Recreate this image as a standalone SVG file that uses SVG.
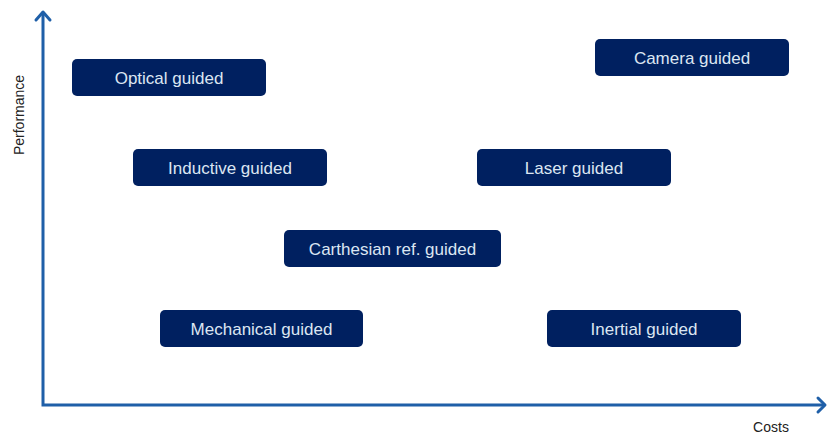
<svg xmlns="http://www.w3.org/2000/svg" width="828" height="436" viewBox="0 0 828 436">
<style>
.box{fill:#002060;}
.lbl{font-family:"Liberation Sans",Arial,sans-serif;font-size:17px;fill:#dce6f2;text-anchor:middle;}
.ax{font-family:"Liberation Sans",Arial,sans-serif;font-size:14px;fill:#222;}
.axis{stroke:#1f5fa8;stroke-width:3;fill:none;}
.head{stroke:#1f5fa8;stroke-width:3;fill:none;stroke-linecap:round;stroke-linejoin:round;}
</style>
<rect width="828" height="436" fill="#fff"/>
<g id="connectors">
<polyline class="axis" points="43,12 43,405 825,405"/>
<polyline class="head" points="36,20 43,12 50,20"/>
<polyline class="head" points="818,398 825,405 818,412"/>
</g>
<text class="ax" transform="translate(24,115) rotate(-90)" text-anchor="middle">Performance</text>
<text class="ax" x="771" y="432" text-anchor="middle">Costs</text>
<g id="optical"><rect class="box" x="72" y="59" width="194" height="37" rx="5"/><text class="lbl" x="169" y="83.5">Optical guided</text></g>
<g id="camera"><rect class="box" x="595" y="39" width="194" height="37" rx="5"/><text class="lbl" x="692" y="63.5">Camera guided</text></g>
<g id="inductive"><rect class="box" x="133" y="149" width="194" height="37" rx="5"/><text class="lbl" x="230" y="173.5">Inductive guided</text></g>
<g id="laser"><rect class="box" x="477" y="149" width="194" height="37" rx="5"/><text class="lbl" x="574" y="173.5">Laser guided</text></g>
<g id="carthesian"><rect class="box" x="284" y="230" width="217" height="37" rx="5"/><text class="lbl" x="392.5" y="254.5">Carthesian ref. guided</text></g>
<g id="mechanical"><rect class="box" x="160" y="310" width="203" height="37" rx="5"/><text class="lbl" x="261.5" y="334.5">Mechanical guided</text></g>
<g id="inertial"><rect class="box" x="547" y="310" width="194" height="37" rx="5"/><text class="lbl" x="644" y="334.5">Inertial guided</text></g>
</svg>
